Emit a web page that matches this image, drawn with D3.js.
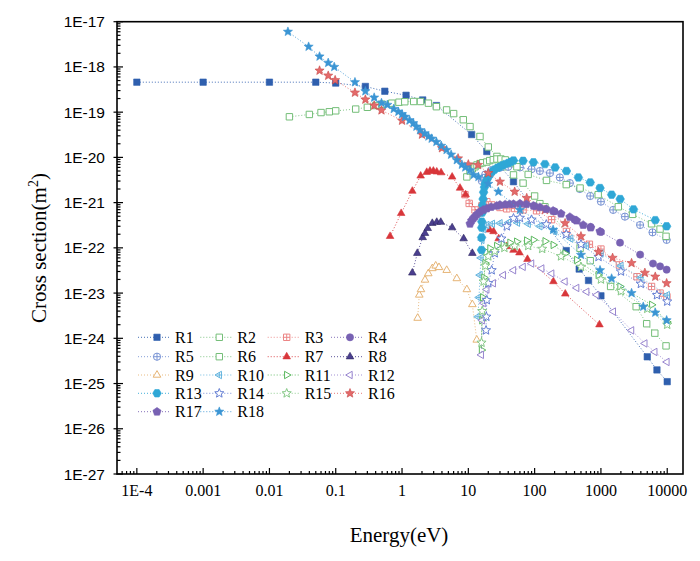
<!DOCTYPE html>
<html>
<head>
<meta charset="utf-8">
<script src="https://cdn.jsdelivr.net/npm/d3@7"></script>
<style>
  body { margin: 0; background: #fff; }
  svg { display: block; }
</style>
</head>
<body>
<div id="chart"></div>
<script>
// cross section data, [energy eV, cross section m^2]
var R1 = [[1e-4,4.6e-19],[1e-3,4.6e-19],[0.01,4.6e-19],[0.05,4.6e-19],[0.1,4.4e-19],[0.28,3.7e-19],[0.55,2.9e-19],[1.15,2.36e-19],[2.05,1.86e-19],[3.3,1.4e-19],[11.2,3.2e-20],[19,1.35e-20],[48,2.9e-21],[300,8.7e-23],[470,3.4e-23],[650,1.9e-23],[1000,8.7e-24],[5000,3.9e-25],[7000,2.0e-25],[10000,1.1e-25]];
var R2 = [[0.02,7.9e-20],[0.04,8.9e-20],[0.06,9.8e-20],[0.08,1.02e-19],[0.1,1.07e-19],[0.2,1.17e-19],[0.3,1.28e-19],[0.4,1.4e-19],[0.5,1.5e-19],[0.7,1.58e-19],[0.9,1.66e-19],[1.1,1.7e-19],[1.5,1.72e-19],[1.9,1.72e-19],[2.5,1.58e-19],[3.3,1.32e-19],[4.7,1.12e-19],[6,9.3e-20],[8.4,6.8e-20],[10.6,4.8e-20],[15,2.9e-20],[20,1.7e-20],[27,1.05e-20],[38,6.2e-21],[48,4.1e-21],[67,2.7e-21],[100,1.4e-21],[120,9.5e-22],[143,8.1e-22],[485,9.8e-23],[690,5.2e-23],[1400,1.4e-23],[3400,5e-24],[4900,2.1e-24],[6500,1.3e-24],[9600,6.8e-25]];
var R3 = [[8.9,1.5e-21],[10.3,9.6e-22],[12.6,6.9e-22],[16,8.5e-22],[19,1.05e-21],[22.5,8.9e-22],[30,7.8e-22],[38,7.3e-22],[50,7.4e-22],[67,6.9e-22],[107,6.6e-22],[180,4.2e-22],[302,2.3e-22],[670,1.2e-22],[1000,9.4e-23],[1900,4.2e-23],[3500,2.3e-23],[5800,1.4e-23],[7800,1.0e-23],[9900,8.3e-24]];
var R4 = [[100,8.4e-22],[200,6.4e-22],[400,4.2e-22],[700,2.9e-22],[1000,2.25e-22],[1940,1.3e-22],[3900,7.1e-23],[6100,4.5e-23],[7800,3.9e-23],[9800,3.3e-23]];
var R5 = [[16,3.0e-21],[18,4.2e-21],[22,5.2e-21],[30,5.9e-21],[40,6.2e-21],[60,6.0e-21],[90,5.5e-21],[120,5.0e-21],[170,4.5e-21],[240,3.6e-21],[340,2.7e-21],[480,2.0e-21],[690,1.4e-21],[1000,1.05e-21],[1530,6.9e-22],[2300,4.9e-22],[3900,3.2e-22],[6000,2.2e-22],[9800,1.5e-22]];
var R6 = [[9.5,3.7e-21],[10.6,5.0e-21],[11.5,5.6e-21],[12.6,6.2e-21],[13.5,6.8e-21],[15,7.3e-21],[16.5,7.6e-21],[19,7.9e-21],[21,8.5e-21],[23.8,8.9e-21],[27,9.2e-21],[31,9.2e-21],[36,8.8e-21],[45,7.6e-21],[54,6.2e-21],[80,4.2e-21],[151,3.1e-21],[300,2.5e-21],[485,2.1e-21],[910,1.5e-21],[1830,8.1e-22],[3000,5.5e-22],[5800,3.4e-22],[7800,2.6e-22],[9600,1.8e-22]];
var R7 = [[0.66,1.8e-22],[0.97,5.8e-22],[1.43,1.8e-21],[1.91,3.9e-21],[2.36,4.7e-21],[2.64,5.0e-21],[2.97,5.0e-21],[3.34,4.8e-21],[3.88,4.6e-21],[5.7,3.7e-21],[7.5,2.1e-21],[9.1,1.5e-21],[21,2.5e-22],[24,2.3e-22],[28.7,1.6e-22],[38,1.07e-22],[48,8.9e-23],[59,7.8e-23],[78,5.6e-23],[192,1.8e-23],[290,9.6e-24],[950,2.0e-24]];
var R8 = [[1.43,2.8e-23],[1.7,7.6e-23],[2.05,1.7e-22],[2.22,2.1e-22],[2.44,2.7e-22],[2.86,3.5e-22],[3.34,3.7e-22],[3.84,3.7e-22],[5.7,2.8e-22],[8.5,1.6e-22],[11.5,7.6e-23]];
var R9 = [[1.72,2.8e-24],[1.82,9.1e-24],[1.93,1.2e-23],[2.22,1.95e-23],[2.49,2.7e-23],[2.86,3.5e-23],[3.22,4.0e-23],[3.61,3.7e-23],[4.72,3.2e-23],[6.7,2.1e-23],[9.5,1.2e-23],[11.5,5.6e-24],[13.4,9.2e-25]];
var R10 = [[14,3e-24],[14.5,8e-24],[15,2.5e-23],[15.5,6e-23],[16,1.5e-22],[17,2.6e-22],[19,3.2e-22],[23,3.4e-22],[30,3.5e-22],[40,3.6e-22],[55,3.6e-22],[80,3.4e-22],[120,3.0e-22],[200,2.3e-22],[350,1.6e-22],[600,1.1e-22],[1000,7.5e-23],[2000,4e-23],[4000,2.2e-23],[10000,9e-24]];
var R11 = [[15.8,5.5e-25],[16,2.5e-24],[16.5,8e-24],[17.2,2.2e-23],[17.9,4.6e-23],[18.5,8.2e-23],[21.2,9.7e-23],[26.8,1.1e-22],[33.7,1.2e-22],[42.5,1.3e-22],[53.7,1.37e-22],[76,1.45e-22],[96,1.5e-22],[144,1.4e-22],[191,1.16e-22],[288,7.5e-23],[432,5.4e-23],[912,2.5e-23],[1940,1.4e-23],[5840,5.5e-24],[9900,2.3e-24]];
var R12 = [[15.7,4.3e-25],[16.2,2.5e-24],[17,6e-24],[19,1.2e-23],[23.8,1.65e-23],[33.7,2.5e-23],[48,3.2e-23],[67,3.8e-23],[90,4.5e-23],[128,3.5e-23],[181,2.7e-23],[287,1.8e-23],[431,1.3e-23],[611,1.07e-23],[865,9.1e-24],[1540,3.9e-24],[2900,1.5e-24],[4600,7.7e-25],[6500,5.0e-25],[9900,3.0e-25]];
var R13 = [[15.8,9e-23],[15.85,1.7e-22],[15.9,2.8e-22],[16.0,3.8e-22],[16.2,6e-22],[16.4,8.7e-22],[16.7,1.2e-21],[17.0,1.7e-21],[17.5,2.2e-21],[18,2.65e-21],[19,3.2e-21],[20,3.7e-21],[21.5,4.3e-21],[23,4.9e-21],[25,5.4e-21],[27.5,5.9e-21],[30,6.2e-21],[33,6.7e-21],[36,7.1e-21],[40,7.5e-21],[44,8e-21],[48,8.5e-21],[67,8.4e-21],[96,7.8e-21],[143,7.1e-21],[204,6.0e-21],[302,5.0e-21],[457,3.6e-21],[690,2.8e-21],[970,2.1e-21],[1450,1.5e-21],[1950,1.2e-21],[3100,7.1e-22],[6600,4.1e-22],[9800,3.0e-22]];
var R14 = [[18.5,1.5e-24],[18.7,3e-24],[19,7e-24],[20,1.65e-23],[22.5,3.2e-23],[25,7.6e-23],[31.6,1.6e-22],[38,3e-22],[48,4.5e-22],[60,4.6e-22],[90,4.2e-22],[150,3.3e-22],[300,2e-22],[500,1.2e-22],[920,6.3e-23],[2000,3e-23],[4000,1.6e-23],[7000,9e-24],[10000,6.5e-24]];
var R15 = [[15.8,8e-25],[16.2,4e-24],[17,1.8e-23],[18,4e-23],[20,6.5e-23],[25,8.5e-23],[35,1.0e-22],[50,1.1e-22],[80,1.1e-22],[130,9.5e-23],[250,6.5e-23],[500,3.8e-23],[1000,2.0e-23],[2000,1.1e-23],[5000,4.5e-24],[10000,2e-24]];
var R16 = [[0.057,8.3e-19],[0.077,6.4e-19],[0.098,5.1e-19],[0.195,2.7e-19],[0.28,1.9e-19],[0.38,1.4e-19],[0.49,1.1e-19],[1.0,6.5e-20],[2.0,3.2e-20],[4.0,1.6e-20],[7.0,9.5e-21],[10,7.0e-21],[14,6.8e-21],[20,4.5e-21],[30,2.9e-21],[50,1.74e-21],[76,1.26e-21],[143,6.9e-22],[288,3.5e-22],[500,1.8e-22],[920,8.1e-23],[1500,6e-23],[2900,4.6e-23],[4600,2.8e-23],[6600,2.3e-23],[9800,1.65e-23]];
var R17 = [[10.6,3.4e-22],[11.2,4.0e-22],[11.9,4.5e-22],[12.6,4.9e-22],[13.5,5.5e-22],[15,6.3e-22],[16.8,6.9e-22],[19,7.4e-22],[22,8.0e-22],[26.8,8.5e-22],[30,8.9e-22],[36,9.1e-22],[42,9.2e-22],[48,9.3e-22],[60,9.5e-22],[75,9.2e-22],[96,8.5e-22],[120,7.9e-22],[150,7.2e-22],[190,6.6e-22],[250,5.7e-22],[340,4.8e-22],[430,4.0e-22],[540,3.2e-22],[700,2.8e-22],[970,2.3e-22]];
var R18 = [[0.019,6.0e-18],[0.039,2.8e-18],[0.057,1.7e-18],[0.077,1.23e-18],[0.095,1.0e-18],[0.195,4.6e-19],[0.28,2.9e-19],[0.38,2.1e-19],[0.49,1.6e-19],[0.6,1.45e-19],[0.75,1.18e-19],[0.88,1.02e-19],[1.0,9e-20],[1.11,7.9e-20],[1.3,6.6e-20],[1.48,5.7e-20],[1.65,4.8e-20],[1.87,4.0e-20],[2.2,3.4e-20],[2.5,2.9e-20],[2.8,2.6e-20],[3.3,2.2e-20],[3.9,1.8e-20],[4.7,1.46e-20],[5.5,1.15e-20],[6.7,8.7e-21],[8,6.9e-21],[9,6e-21],[10.6,5.2e-21],[12,4.1e-21],[14.2,3.7e-21],[20,2.6e-21],[28.4,1.74e-21],[60,6.9e-22],[190,2.5e-22],[500,7e-23],[970,3.2e-23],[1450,2.1e-23],[2900,1.0e-23],[4350,5e-24],[6600,3.7e-24],[9800,2.5e-24]];

// axis ticks and labels
var xTicks = [1e-4, 1e-3, 1e-2, 0.1, 1, 10, 100, 1000, 10000];
var xTickLabels = ["1E-4", "0.001", "0.01", "0.1", "1", "10", "100", "1000", "10000"];
var yTicks = [1e-27, 1e-26, 1e-25, 1e-24, 1e-23, 1e-22, 1e-21, 1e-20, 1e-19, 1e-18, 1e-17];
var yTickLabels = ["1E-27", "1E-26", "1E-25", "1E-24", "1E-23", "1E-22", "1E-21", "1E-20", "1E-19", "1E-18", "1E-17"];

var series = [
    {name: "R1", data: R1, color: "#2f5fae", shape: "square", fill: true},
    {name: "R2", data: R2, color: "#74be78", shape: "square", fill: false},
    {name: "R3", data: R3, color: "#ec8585", shape: "squarePlus", fill: false},
    {name: "R4", data: R4, color: "#7862b3", shape: "circle", fill: true},
    {name: "R5", data: R5, color: "#7893d4", shape: "circlePlus", fill: false},
    {name: "R6", data: R6, color: "#74be78", shape: "square", fill: false},
    {name: "R7", data: R7, color: "#d8363a", shape: "triUp", fill: true},
    {name: "R8", data: R8, color: "#4b3f8f", shape: "triUp", fill: true, edge: "#2e2660"},
    {name: "R9", data: R9, color: "#e6b475", shape: "triUp", fill: false},
    {name: "R10", data: R10, color: "#62b3de", shape: "triLeftPlus", fill: false},
    {name: "R11", data: R11, color: "#5bb85f", shape: "triRight", fill: false},
    {name: "R12", data: R12, color: "#9885cf", shape: "triLeft", fill: false},
    {name: "R13", data: R13, color: "#2fa7d6", shape: "hex", fill: true},
    {name: "R14", data: R14, color: "#6680d4", shape: "star", fill: false},
    {name: "R15", data: R15, color: "#86c987", shape: "star", fill: false},
    {name: "R16", data: R16, color: "#e46a6a", shape: "star", fill: true, edge: "#c84a4a"},
    {name: "R17", data: R17, color: "#7861b3", shape: "pent", fill: true},
    {name: "R18", data: R18, color: "#3b95d4", shape: "star", fill: true}
];

var width = 700, height = 561;
var svg = d3.select("#chart").append("svg")
    .attr("width", width)
    .attr("height", height);

var x = d3.scaleLog().domain([5.02e-5, 1.73e4]).range([117, 683]);
var y = d3.scaleLog().domain([1e-27, 1e-17]).range([474, 21.7]);

// polygon helper for the marker shapes
function poly(n, r, startDeg, innerR) {
    var pts = [];
    var steps = innerR ? n * 2 : n;
    for (var i = 0; i < steps; i++) {
        var a = (startDeg + i * 360 / steps) * Math.PI / 180;
        var rr = (innerR && i % 2 === 1) ? innerR : r;
        pts.push([rr * Math.cos(a), rr * Math.sin(a)]);
    }
    return "M" + pts.map(function (p) { return p[0].toFixed(2) + "," + p[1].toFixed(2); }).join("L") + "Z";
}

function shapePath(shape) {
    var s = 3.2;
    var cross = "M" + (-s) + ",0H" + s + "M0," + (-s) + "V" + s;
    switch (shape) {
        case "square": return "M-3.2,-3.2H3.2V3.2H-3.2Z";
        case "squarePlus": return "M-3.2,-3.2H3.2V3.2H-3.2Z" + cross;
        case "circle": return "M3.6,0A3.6,3.6 0 1,1 -3.6,0A3.6,3.6 0 1,1 3.6,0Z";
        case "circlePlus": return "M3.6,0A3.6,3.6 0 1,1 -3.6,0A3.6,3.6 0 1,1 3.6,0Z" + "M-3.6,0H3.6M0,-3.6V3.6";
        case "triUp": return poly(3, 4.4, -90);
        case "triRight": return poly(3, 4.3, 0);
        case "triLeft": return poly(3, 4.3, 180);
        case "triLeftPlus": return poly(3, 4.3, 180) + "M-2.8,0H2.8M0,-2.8V2.8";
        case "hex": return poly(6, 4.3, 0);
        case "star": return poly(5, 4.8, -90, 2.1);
        case "pent": return poly(5, 4.3, -90);
    }
}

function drawMarker(g, s, cx, cy) {
    g.append("path")
        .attr("d", shapePath(s.shape))
        .attr("transform", "translate(" + cx + "," + cy + ")")
        .attr("fill", s.fill ? s.color : "#fff")
        .attr("stroke", s.edge || s.color)
        .attr("stroke-width", s.fill ? 0.6 : 1);
}

// frame
svg.append("rect")
    .attr("x", 117).attr("y", 21.7)
    .attr("width", 683 - 117).attr("height", 474 - 21.7)
    .attr("fill", "none")
    .attr("stroke", "#000")
    .attr("stroke-width", 1.6);

// ticks
var ticks = svg.append("g").attr("stroke", "#000").attr("stroke-width", 1.2);
var xMinor = [], yMinor = [];
d3.range(-5, 5).forEach(function (e) {
    for (var k = 2; k <= 9; k++) {
        var v = k * Math.pow(10, e);
        if (v > 5.02e-5 && v < 1.73e4) xMinor.push(v);
    }
});
d3.range(-27, -17).forEach(function (e) {
    for (var k = 2; k <= 9; k++) yMinor.push(k * Math.pow(10, e));
});
xTicks.forEach(function (v) {
    ticks.append("line").attr("x1", x(v)).attr("x2", x(v)).attr("y1", 474).attr("y2", 468);
});
xMinor.forEach(function (v) {
    ticks.append("line").attr("x1", x(v)).attr("x2", x(v)).attr("y1", 474).attr("y2", 471);
});
yTicks.forEach(function (v) {
    ticks.append("line").attr("x1", 113.5).attr("x2", 123).attr("y1", y(v)).attr("y2", y(v));
});
yMinor.forEach(function (v) {
    ticks.append("line").attr("x1", 117).attr("x2", 120.5).attr("y1", y(v)).attr("y2", y(v));
});

// tick labels
svg.append("g").selectAll("text").data(xTicks).enter().append("text")
    .attr("x", function (d) { return x(d); })
    .attr("y", 496)
    .attr("text-anchor", "middle")
    .attr("font-family", "Liberation Serif, Times New Roman, serif")
    .attr("font-size", 16)
    .text(function (d, i) { return xTickLabels[i]; });

svg.append("g").selectAll("text").data(yTicks).enter().append("text")
    .attr("x", 105)
    .attr("y", function (d) { return y(d) + 5.5; })
    .attr("text-anchor", "end")
    .attr("font-family", "Liberation Sans, Arial, sans-serif")
    .attr("font-size", 15.5)
    .text(function (d, i) { return yTickLabels[i]; });

// axis titles
svg.append("text")
    .attr("x", 399).attr("y", 542)
    .attr("text-anchor", "middle")
    .attr("font-family", "Liberation Serif, Times New Roman, serif")
    .attr("font-size", 21)
    .text("Energy(eV)");

var yTitle = svg.append("text")
    .attr("transform", "translate(46,248) rotate(-90)")
    .attr("text-anchor", "middle")
    .attr("font-family", "Liberation Serif, Times New Roman, serif")
    .attr("font-size", 21);
yTitle.append("tspan").text("Cross section(m");
yTitle.append("tspan").attr("dy", -8).attr("font-size", 14).text("2");
yTitle.append("tspan").attr("dy", 8).text(")");

// series
var line = d3.line()
    .x(function (d) { return x(d[0]); })
    .y(function (d) { return y(d[1]); });

series.forEach(function (s) {
    var g = svg.append("g");
    g.append("path")
        .attr("d", line(s.data))
        .attr("fill", "none")
        .attr("stroke", s.color)
        .attr("stroke-width", 0.9)
        .attr("stroke-dasharray", "1,2");
    s.data.forEach(function (d) {
        drawMarker(g, s, x(d[0]), y(d[1]));
    });
});

// legend, 4 columns
var legCols = [157, 219.3, 286.7, 350];
var legRows = [337.3, 356.7, 375, 393.3, 411.7];
var legend = svg.append("g");
series.forEach(function (s, i) {
    var cx = legCols[i % 4], cy = legRows[Math.floor(i / 4)];
    legend.append("line")
        .attr("x1", cx - 19).attr("x2", cx + 13)
        .attr("y1", cy).attr("y2", cy)
        .attr("stroke", s.color)
        .attr("stroke-width", 0.9)
        .attr("stroke-dasharray", "1,2");
    drawMarker(legend, s, cx, cy);
    legend.append("text")
        .attr("x", cx + 18).attr("y", cy + 5.5)
        .attr("font-family", "Liberation Serif, Times New Roman, serif")
        .attr("font-size", 16)
        .text(s.name);
});
</script>
</body>
</html>
